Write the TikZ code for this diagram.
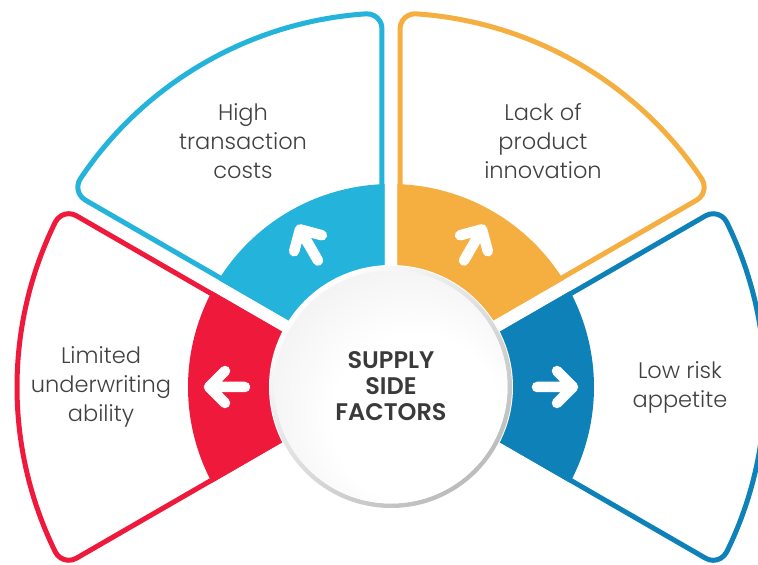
\documentclass[tikz,border=0pt]{standalone}
\usepackage{fontspec}
\setmainfont{Poppins}
\IfFontExistsTF{Poppins Light}{\newfontfamily\bodyfont{Poppins Light}}{\newfontfamily\bodyfont{Poppins}}
\IfFontExistsTF{Poppins SemiBold}{\newfontfamily\headfont{Poppins SemiBold}}{\newfontfamily\headfont{Poppins}[UprightFont=*-Bold]}
\definecolor{cred}{RGB}{239,25,60}
\definecolor{ccyan}{RGB}{35,179,219}
\definecolor{corange}{RGB}{245,174,64}
\definecolor{cblue}{RGB}{14,130,184}
\definecolor{ctext}{RGB}{64,64,64}
\definecolor{ctitle}{RGB}{58,58,58}
\definecolor{discedge}{RGB}{222,222,222}
\definecolor{rimdark}{RGB}{188,188,188}
\pgfdeclareradialshading{discshade}{\pgfpoint{8bp}{-10bp}}{color(0bp)=(white); color(18bp)=(white); color(55bp)=(discedge)}
% outline petal: #1 start angle, #2 end angle, #3 radius, #4 offset, #5 corner radius, #6 style
\newcommand\petal[6]{%
  \edef\qS{\fpeval{sqrt((#3-#5)^2-(#4+#5)^2)}}%
  \edef\qD{\fpeval{atand((#4+#5)/\qS)}}%
  \edef\qA{\fpeval{#1+\qD}}%
  \edef\qB{\fpeval{#2-\qD}}%
  \edef\qR{\fpeval{#4/sind((#2-#1)/2)}}%
  \edef\qM{\fpeval{(#1+#2)/2}}%
  \draw[#6] (\qM:\qR pt) -- ([shift={(#1+90:#4pt)}]#1:\qS pt)
    arc[start angle=#1-90, end angle=\qA, radius=#5pt]
    arc[start angle=\qA, end angle=\qB, radius=#3pt]
    arc[start angle=\qB, end angle=#2+90, radius=#5pt] -- cycle;
}
% coloured band: #1 start, #2 end, #3 radius, #4 offset, #5 style
\newcommand\band[5]{%
  \edef\qD{\fpeval{asind(#4/#3)}}%
  \edef\qA{\fpeval{#1+\qD}}%
  \edef\qB{\fpeval{#2-\qD}}%
  \edef\qR{\fpeval{#4/sind((#2-#1)/2)}}%
  \edef\qM{\fpeval{(#1+#2)/2}}%
  \fill[#5] (\qM:\qR pt) -- (\qA:#3pt) arc[start angle=\qA, end angle=\qB, radius=#3pt] -- cycle;
}
\newcommand\arrowat[1]{%
  \begin{scope}[rotate=#1]
    \draw[arrowline] (146,0) -- (182,0) (166,16) -- (182,0) -- (166,-16);
  \end{scope}
}
\begin{document}
\begin{tikzpicture}[x=1pt,y=1pt,
  outline/.style={line width=5pt, line join=round},
  arrowline/.style={white, line width=10.5pt, line cap=round, line join=round},
  txt/.style={text=ctext, font=\bodyfont\fontsize{22.5}{29}\selectfont, align=center, inner sep=0pt},
  titletxt/.style={text=ctitle, font=\headfont\fontsize{24}{26}\selectfont, align=center, inner sep=0pt}]
\clip (-391,-178) rectangle (367,387);
% outlines
\petal{150}{210}{374}{9}{15}{cred,outline}
\petal{90}{150}{374}{9}{15}{ccyan,outline}
\petal{30}{90}{374}{9}{15}{corange,outline}
\petal{-30}{30}{374}{9}{15}{cblue,outline}
% coloured bands
\band{150}{210}{203}{6.5}{cred}
\band{90}{150}{203}{6.5}{ccyan}
\band{30}{90}{203}{6.5}{corange}
\band{-30}{30}{203}{6.5}{cblue}
% arrows
\arrowat{180}
\arrowat{120}
\arrowat{60}
\arrowat{0}
% centre disc
\fill[white] (0,0) circle (122pt);
\shade[even odd rule, top color=white, bottom color=rimdark, shading angle=40] (0,0) circle (121pt) (0,0) circle (116.5pt);
\shade[shading=discshade] (0,0) circle (116.5pt);
% texts
\node[txt] (t1) at (-148,246) {High\\transaction\\costs};
\node[txt] (t2) at (152,246) {Lack of\\product\\innovation};
\node[txt] (t3) at (-290,0) {Limited\\underwriting\\ability};
\node[txt] (t4) at (289,0) {Low risk\\appetite};
\node[titletxt] (c) at (0,1) {SUPPLY\\SIDE\\FACTORS};
\end{tikzpicture}
\end{document}
